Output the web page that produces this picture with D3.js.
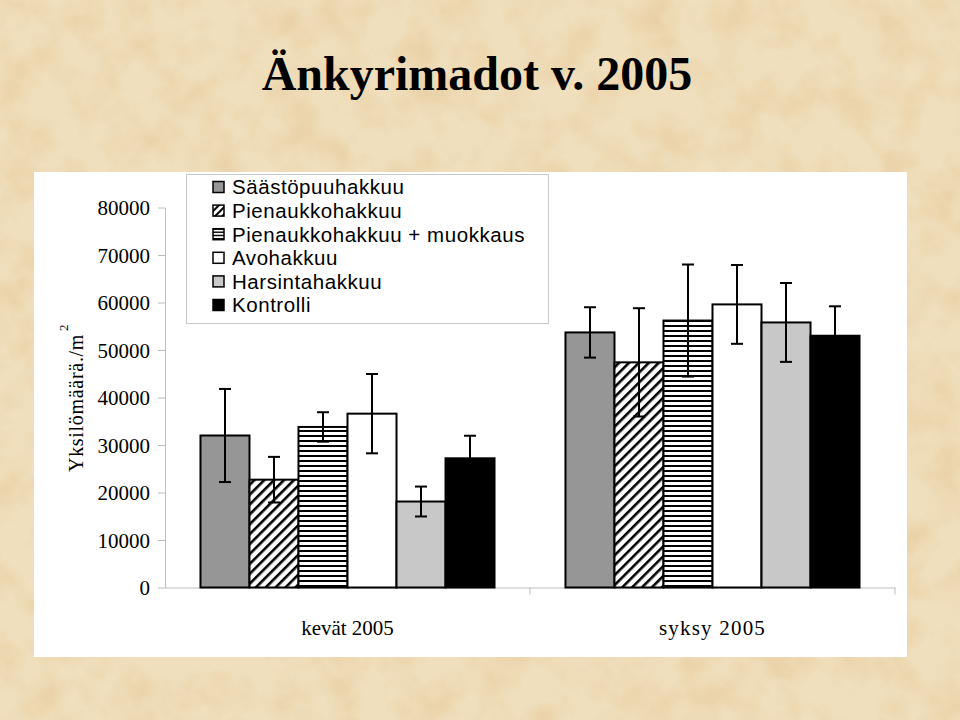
<!DOCTYPE html>
<html>
<head>
<meta charset="utf-8">
<script src="https://cdn.jsdelivr.net/npm/d3@7"></script>
<style>
html,body{margin:0;padding:0;background:#ecdcba;}
svg{display:block;}
</style>
</head>
<body>
<svg id="chart" width="960" height="720"></svg>
<script>
const categories = ["kevät 2005", "syksy 2005"];
const series = ["Säästöpuuhakkuu", "Pienaukkohakkuu", "Pienaukkohakkuu + muokkaus", "Avohakkuu", "Harsintahakkuu", "Kontrolli"];
const kevatValues = [32000, 22700, 33800, 36600, 18100, 27200];
const kevatErrors = [9800, 4800, 3100, 8350, 3150, 4750];
const syksyValues = [53700, 47400, 56200, 59600, 55800, 53000];
const syksyErrors = [5300, 11400, 11800, 8300, 8300, 6200];
const yTicks = [0, 10000, 20000, 30000, 40000, 50000, 60000, 70000, 80000];
const title = "Änkyrimadot v. 2005";

const valuesByCat = [kevatValues, syksyValues];
const errorsByCat = [kevatErrors, syksyErrors];
const data = [];
categories.forEach((c, ci) => series.forEach((s, si) => {
  data.push({cat: c, ser: s, si, v: valuesByCat[ci][si], e: errorsByCat[ci][si]});
}));

const svg = d3.select("#chart");
const defs = svg.append("defs");

// paper texture
const f = defs.append("filter").attr("id", "paper").attr("x", 0).attr("y", 0).attr("width", "100%").attr("height", "100%");
f.append("feTurbulence").attr("type", "fractalNoise").attr("baseFrequency", "0.025").attr("numOctaves", 4).attr("seed", 7);
f.append("feColorMatrix").attr("type", "matrix")
  .attr("values", "0 0 0 0 0.80  0 0 0 0 0.60  0 0 0 0 0.34  1.5 0 0 0 -0.58");

// patterns
const diag = defs.append("pattern").attr("id", "diag").attr("patternUnits", "userSpaceOnUse")
  .attr("width", 7).attr("height", 7).attr("patternTransform", "rotate(45)");
diag.append("rect").attr("width", 7).attr("height", 7).attr("fill", "#fff");
diag.append("rect").attr("x", 0).attr("width", 2.6).attr("height", 7).attr("fill", "#000");

const horiz = defs.append("pattern").attr("id", "horiz").attr("patternUnits", "userSpaceOnUse")
  .attr("width", 8).attr("height", 5);
horiz.append("rect").attr("width", 8).attr("height", 5).attr("fill", "#fff");
horiz.append("rect").attr("y", 0).attr("width", 8).attr("height", 2).attr("fill", "#000");

const diagS = defs.append("pattern").attr("id", "diagS").attr("patternUnits", "userSpaceOnUse")
  .attr("width", 5).attr("height", 5).attr("patternTransform", "rotate(45)");
diagS.append("rect").attr("width", 5).attr("height", 5).attr("fill", "#fff");
diagS.append("rect").attr("width", 2).attr("height", 5).attr("fill", "#000");
const horizS = defs.append("pattern").attr("id", "horizS").attr("patternUnits", "userSpaceOnUse")
  .attr("width", 5).attr("height", 3.2).attr("y", 0.5);
horizS.append("rect").attr("width", 5).attr("height", 3.2).attr("fill", "#fff");
horizS.append("rect").attr("width", 5).attr("height", 1.5).attr("fill", "#000");

const fills = ["#969696", "url(#diag)", "url(#horiz)", "#ffffff", "#c8c8c8", "#000000"];
const legendFills = ["#969696", "url(#diagS)", "url(#horizS)", "#ffffff", "#c8c8c8", "#000000"];

// background
svg.append("rect").attr("width", 960).attr("height", 720).attr("fill", "#f0dfbd");
svg.append("rect").attr("width", 960).attr("height", 720).attr("filter", "url(#paper)");

// title
svg.append("text").attr("x", 477).attr("y", 90).attr("text-anchor", "middle")
  .attr("font-family", "Liberation Serif, Times New Roman, serif").attr("font-size", 48)
  .attr("font-weight", "bold").attr("fill", "#000").text(title);

// white plot panel
svg.append("rect").attr("x", 34).attr("y", 172).attr("width", 873).attr("height", 485).attr("fill", "#fff");

// scales
const x0 = d3.scaleBand().domain(categories).range([165, 895]).paddingInner(0).paddingOuter(0);
const x1 = d3.scaleBand().domain(series).range([0, x0.bandwidth()]).paddingInner(0).paddingOuter(0.724);
const y = d3.scaleLinear().domain([0, 80000]).range([587.5, 207.5]);

const serif = "Liberation Serif, Times New Roman, serif";
const axisColor = "#bdbdbd";

// y axis
const yAxis = svg.append("g").attr("transform", "translate(165,0)")
  .call(d3.axisLeft(y).tickValues(yTicks).tickSize(7).tickSizeOuter(0).tickPadding(8).tickFormat(d3.format("d")));
yAxis.select(".domain").attr("stroke", axisColor);
yAxis.selectAll(".tick line").attr("stroke", axisColor);
yAxis.selectAll(".tick text").attr("font-family", serif).attr("font-size", 21).attr("fill", "#000").attr("dy", "0.34em");

// x axis
const xAxis = svg.append("g").attr("transform", `translate(0,${y(0)})`)
  .call(d3.axisBottom(x0).tickSize(0).tickPadding(33).tickSizeOuter(0));
xAxis.select(".domain").attr("stroke", axisColor);
xAxis.selectAll(".tick text").attr("font-family", serif).attr("font-size", 21).attr("fill", "#000");
xAxis.selectAll(".tick text").filter(d => d === "syksy 2005").attr("letter-spacing", 1.2);
xAxis.selectAll(".bound").data(categories.slice(1).concat(["__end"])).enter().append("line")
  .attr("class", "bound")
  .attr("x1", d => d === "__end" ? x0.range()[1] : x0(d))
  .attr("x2", d => d === "__end" ? x0.range()[1] : x0(d))
  .attr("y1", 0).attr("y2", 7).attr("stroke", axisColor);

// y label
const yl = svg.append("text").attr("transform", "translate(83,472) rotate(-90)")
  .attr("font-family", serif).attr("font-size", 20).attr("fill", "#000").attr("letter-spacing", 0.7);
yl.append("tspan").text("Yksilömäärä./m");
yl.append("tspan").attr("dy", -15).attr("dx", 3).attr("font-size", 13).text("2");

// bars
const bars = svg.append("g");
bars.selectAll("rect").data(data).enter().append("rect")
  .attr("x", d => x0(d.cat) + x1(d.ser))
  .attr("y", d => y(d.v))
  .attr("width", x1.bandwidth())
  .attr("height", d => y(0) - y(d.v))
  .attr("fill", d => fills[d.si])
  .attr("stroke", "#000").attr("stroke-width", 2);

// error bars
const eb = svg.append("g").attr("stroke", "#000").attr("stroke-width", 2);
const cap = 6;
data.forEach(d => {
  const cx = x0(d.cat) + x1(d.ser) + x1.bandwidth() / 2;
  eb.append("line").attr("x1", cx).attr("x2", cx).attr("y1", y(d.v + d.e)).attr("y2", y(d.v - d.e));
  eb.append("line").attr("x1", cx - cap).attr("x2", cx + cap).attr("y1", y(d.v + d.e)).attr("y2", y(d.v + d.e));
  eb.append("line").attr("x1", cx - cap).attr("x2", cx + cap).attr("y1", y(d.v - d.e)).attr("y2", y(d.v - d.e));
});

// legend
const lg = svg.append("g");
lg.append("rect").attr("x", 186.5).attr("y", 174.5).attr("width", 362).attr("height", 149)
  .attr("fill", "#fff").attr("stroke", "#c8c8c8").attr("stroke-width", 1);
const rowY = d3.scalePoint().domain(series).range([187, 305]);
const items = lg.selectAll("g.item").data(series).enter().append("g").attr("class", "item")
  .attr("transform", d => `translate(0,${rowY(d)})`);
items.append("rect").attr("x", 213).attr("y", -5.5).attr("width", 11).attr("height", 11)
  .attr("fill", (d, i) => legendFills[i])
  .attr("stroke", "#000").attr("stroke-width", 1.5);
items.append("text").attr("x", 232).attr("y", 0).attr("dy", "0.36em")
  .attr("font-family", "Liberation Sans, Arial, sans-serif").attr("font-size", 20.5).attr("fill", "#000")
  .attr("letter-spacing", 0.55)
  .text(d => d);
</script>
</body>
</html>
